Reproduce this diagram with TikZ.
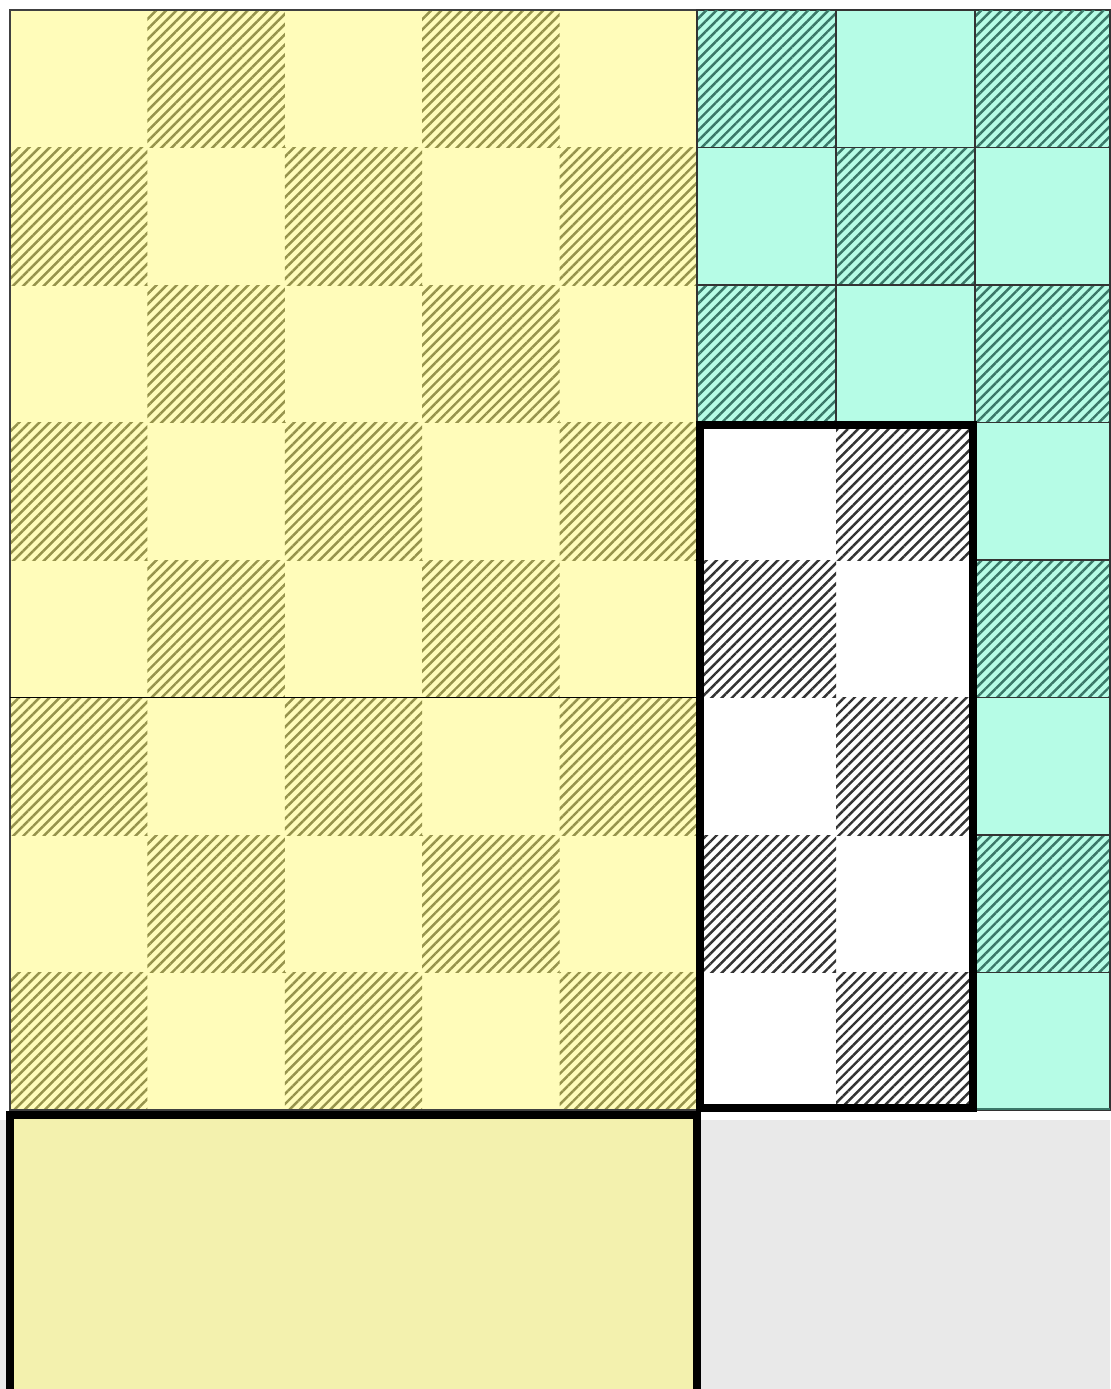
\documentclass[tikz,border=0pt]{standalone}
\usetikzlibrary{patterns.meta}
\definecolor{yel}{HTML}{FFFCBA}
\definecolor{yeldark}{HTML}{F3F1AE}
\definecolor{olivehatch}{HTML}{96934C}
\definecolor{tealfill}{HTML}{B6FCE6}
\definecolor{tealhatch}{HTML}{3A7768}
\definecolor{bggray}{HTML}{E9E9E9}
\tikzset{
  hatchY/.style={pattern={Lines[angle=45,distance=4.1pt,line width=1.4pt]},pattern color=olivehatch},
  hatchT/.style={pattern={Lines[angle=45,distance=4.1pt,line width=1.4pt]},pattern color=tealhatch},
  hatchK/.style={pattern={Lines[angle=45,distance=4.1pt,line width=1.4pt]},pattern color=black!80},
  tealcell/.style={fill=tealfill,draw=black!80,line width=0.6pt},
  thickframe/.style={draw=black,line width=4pt},
}
\begin{document}
\begin{tikzpicture}[x=0.02cm,y=-0.02cm]
\useasboundingbox (0,0) rectangle (1110,1389);
\fill[white] (0,0) rectangle (1110,1389);
\fill[bggray] (0,1120) rectangle (1110,1389);
% yellow checkerboard
\fill[yel] (10,10) rectangle (697,1110);
\foreach \c in {0,...,4}{
  \foreach \r in {0,...,7}{
    \pgfmathtruncatemacro{\parity}{mod(\c+\r,2)}
    \ifnum\parity=1
      \fill[hatchY] ({10+\c*137.4},{10+\r*137.5}) rectangle ++(137.4,137.5);
    \fi
  }
}
\draw[black!75,line width=1pt] (10,10) rectangle (697,1110);
\draw[black,line width=0.8pt] (10,697.5) -- (697,697.5);
% teal cells, top three rows
\foreach \x/\w/\c in {697/139/5,836/139/6,975/135/7}{
  \foreach \r in {0,1,2}{
    \pgfmathtruncatemacro{\parity}{mod(\c+\r,2)}
    \filldraw[tealcell] (\x,{10+\r*137.5}) rectangle ++(\w,137.5);
    \ifnum\parity=1
      \fill[hatchT] ({\x+1},{11+\r*137.5}) rectangle ++({\w-2},135.5);
    \fi
  }
}
% teal right column
\foreach \r in {3,...,7}{
  \pgfmathtruncatemacro{\parity}{mod(7+\r,2)}
  \filldraw[tealcell] (975,{10+\r*137.5}) rectangle ++(135,137.5);
  \ifnum\parity=1
    \fill[hatchT] (976,{11+\r*137.5}) rectangle ++(133,135.5);
  \fi
}
\draw[tealhatch,line width=1.5pt] (975,1109) -- (1110,1109);
% white checker block
\fill[white] (697,422.5) rectangle (975,1110);
\foreach \c/\x in {5/697,6/836}{
  \foreach \r in {3,...,7}{
    \pgfmathtruncatemacro{\parity}{mod(\c+\r,2)}
    \ifnum\parity=1
      \fill[hatchK] (\x,{10+\r*137.5}) rectangle ++(139,137.5);
    \fi
  }
}
\draw[thickframe] (700,425) rectangle (973,1108);
% bottom yellow block
\filldraw[fill=yeldark,thickframe] (10,1115) rectangle (697,1392);
\end{tikzpicture}
\end{document}
